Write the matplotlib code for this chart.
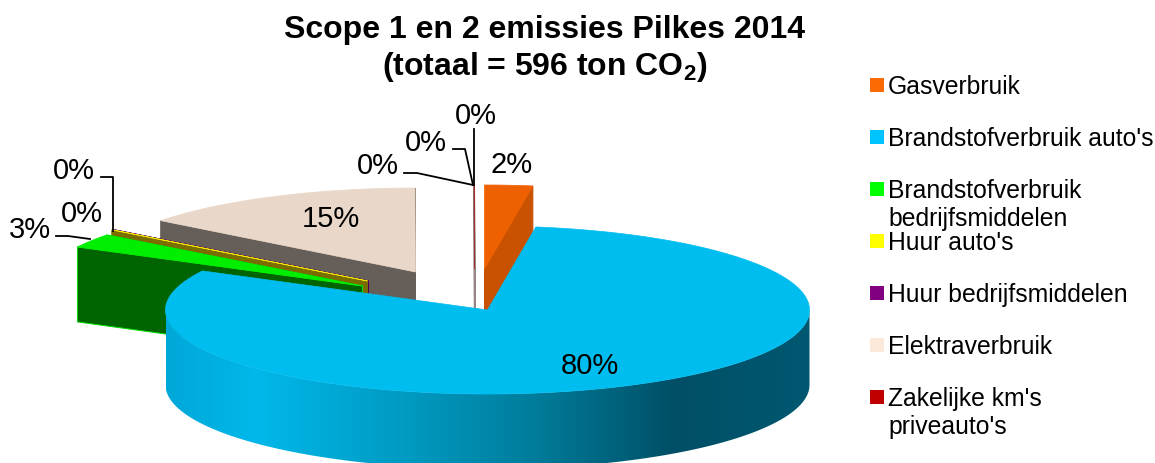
import numpy as np
import matplotlib
matplotlib.use('Agg')
import matplotlib.pyplot as plt
from matplotlib.colors import LinearSegmentedColormap
from matplotlib.patches import Polygon, Rectangle

plt.rcParams['font.family'] = ['Liberation Sans', 'DejaVu Sans']
plt.rcParams['mathtext.fontset'] = 'custom'
plt.rcParams['mathtext.rm'] = 'Liberation Sans'
plt.rcParams['mathtext.bf'] = 'Liberation Sans:bold'

categories = ['Gasverbruik', "Brandstofverbruik auto's",
              'Brandstofverbruik\nbedrijfsmiddelen', "Huur auto's",
              'Huur bedrijfsmiddelen', 'Elektraverbruik',
              "Zakelijke km's\npriveauto's"]
values = [2.4, 80.3, 2.7, 0.05, 0.02, 14.5, 0.03]

# top face, wall and legend colours per slice
top_colors = ['#ee6000', '#00bdf0', '#00ee00', '#f0e800', '#800080', '#e9d8c9', '#a03030']
wall_colors = ['#c85200', '#00bdf0', '#006400', '#7a6d00', '#500050', '#665e58', '#958585']
wall_edges = ['#c85200', '#00bdf0', '#00dd00', '#7a6d00', '#500050', '#665e58', '#958585']
legend_colors = ['#fb6a05', '#00c4ff', '#00ff00', '#ffff00', '#800080', '#fde9d9', '#c00000']

# pie geometry in pixels
cx, cy = 487.5, 311
rx, ry = 322, 84
depth = 75
# how far each slice is pulled out of the pie
offsets = [(-3, -41), (0, 0), (-125, -24), (-120, -29), (-119, -29), (-72, -38), (-13, -41)]

label_pos = [(512, 165), (590, 366), (30, 230), (82, 214), (74, 171), (331, 219), (378, 166)]
extra_label = (426, 143)
extra_label2 = (476, 116)


def rim(frac, dx=0, dy=0):
    # point on the ellipse, frac in percent clockwise from 12 o'clock
    t = np.radians(np.asarray(frac) * 3.6)
    return np.column_stack([cx + dx + rx * np.sin(t), cy + dy - ry * np.cos(t)])


def main():
    fig = plt.figure(figsize=(11.55, 4.64), dpi=100)
    ax = fig.add_axes([0, 0, 1, 1])

    ends = np.cumsum(values)
    starts = ends - np.array(values)

    # back to front: elektra, zakelijk, yellow, purple, green, gas, then the big slice
    for i in [5, 6, 4, 3, 2, 0]:
        dx, dy = offsets[i]
        apex = np.array([cx + dx, cy + dy])
        arc = rim(np.linspace(starts[i], ends[i], 40), dx, dy)
        for p in (arc[-1], arc[0]):
            wall = [p, p + (0, depth), apex + (0, depth), apex]
            ax.add_patch(Polygon(wall, fc=wall_colors[i], ec=wall_edges[i], lw=0.7))
        ax.add_patch(Polygon(np.vstack([apex, arc]), fc=top_colors[i], ec=top_colors[i], lw=0.5))

    # outer wall of the big slice with its gradient
    front = rim(np.linspace(25, 75, 200))
    side = np.vstack([front, front[::-1] + (0, depth)])
    grad = LinearSegmentedColormap.from_list('side', [
        (0.0, '#00a8d8'), (0.14, '#00b8ea'), (0.38, '#0099c0'),
        (0.58, '#007b99'), (0.79, '#004f66'), (1.0, '#005870')])
    im = ax.imshow(np.linspace(0, 1, 256)[None, :], cmap=grad, aspect='auto',
                   extent=[cx - rx, cx + rx, cy + ry + depth, cy - ry], zorder=2)
    clip = Polygon(side, transform=ax.transData, fc='none', ec='none')
    ax.add_patch(clip)
    im.set_clip_path(clip)

    arc = rim(np.linspace(starts[1], ends[1], 300))
    ax.add_patch(Polygon(np.vstack([[cx, cy], arc]), fc=top_colors[1], ec=top_colors[1],
                         lw=0.5, zorder=3))

    # leader lines
    leaders = [([474, 474], [186, 130]),
               ([473, 465, 453], [186, 150, 150]),
               ([473, 417, 404], [186, 174, 174]),
               ([90, 68, 56], [240, 237, 237]),
               ([113, 113, 101], [232, 178, 178])]
    for xs, ys in leaders:
        ax.plot(xs, ys, color='black', lw=1.3, zorder=4)

    # data labels
    pct = [f'{int(v + 0.5)}%' for v in values]
    for (x, y), s in zip(label_pos, pct):
        ax.text(x, y, s, fontsize=21, ha='center', va='center', zorder=5)
    ax.text(*extra_label, pct[3], fontsize=21, ha='center', va='center', zorder=5)
    ax.text(*extra_label2, pct[4], fontsize=21, ha='center', va='center', zorder=5)

    # legend
    legend_y = [86, 138, 190, 242, 294, 346, 398]
    for name, col, y in zip(categories, legend_colors, legend_y):
        ax.add_patch(Rectangle((870, y - 7), 14, 14, fc=col, ec='none'))
        ax.text(888, y - 11, name, fontsize=17.8, ha='left', va='top', linespacing=1.2)

    ax.text(545, 30, 'Scope 1 en 2 emissies Pilkes 2014', fontsize=23, fontweight='bold',
            ha='center', va='center')
    ax.text(545, 67, r'(totaal = 596 ton CO$_{\mathbf{2}}$)', fontsize=23, fontweight='bold',
            ha='center', va='center')

    ax.set_xlim(0, 1155)
    ax.set_ylim(464, 0)
    ax.axis('off')
    fig.savefig('out.png', dpi=100)


if __name__ == '__main__':
    main()
